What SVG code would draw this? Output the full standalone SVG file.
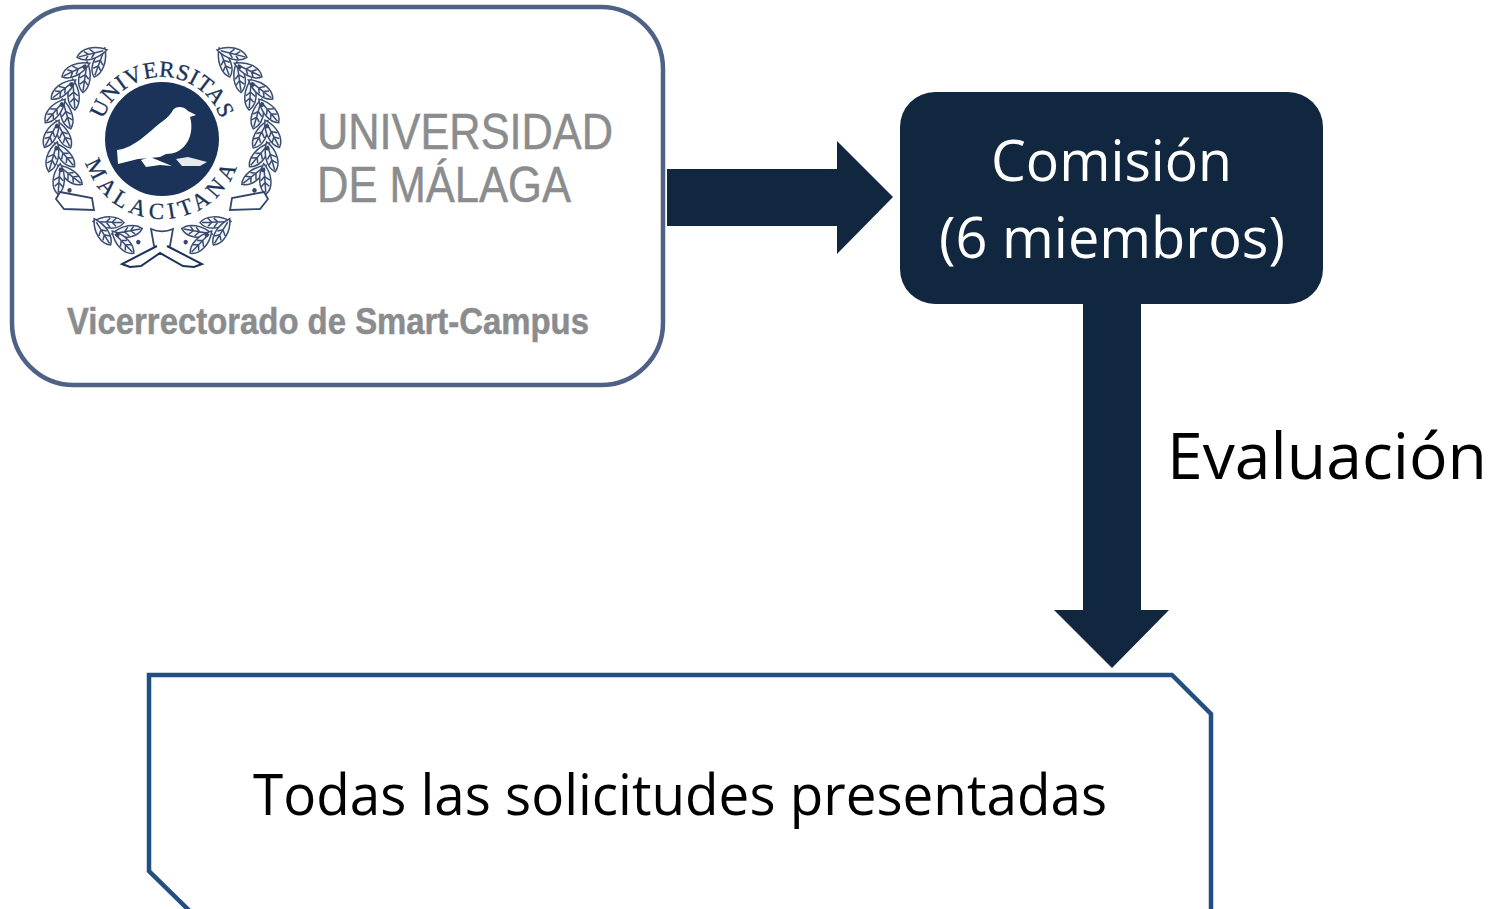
<svg xmlns="http://www.w3.org/2000/svg" width="1503" height="909" viewBox="0 0 1503 909">
<style>
.c{font-family:"Open Sans","Noto Sans",sans-serif}
.g{font-family:"Liberation Sans",Arial,sans-serif;fill:#8b8c8e;stroke:#8b8c8e;stroke-width:.5}
.flow{fill:#11263f}
.seal{font-family:"Liberation Serif","Times New Roman",serif;font-size:23px;fill:#1b3358;stroke:#1b3358;stroke-width:.3}
.lf{fill:#f4f6f9;stroke:#3a4d70;stroke-width:1.5}
.rb{fill:#fff;stroke:#33476b;stroke-width:1.8}
</style>
<defs>
<path id="leaf" d="M-14 0C-8-8 6-8 17 0C6 7-8 7-14 0ZM-12 0H13M-6-4L-2 0M0-5L4 0M-6 4L-2 0M0 4L4 0"/>
<path id="pA" d="M 100 139 A 62 62 0 0 1 224 139"/>
<path id="pB" d="M 82 139 A 80 80 0 0 0 242 139"/>
<g id="pair">
<use href="#leaf" class="lf" transform="translate(0,-98) rotate(-30)"/>
<use href="#leaf" class="lf" transform="translate(0,-111) rotate(26)"/>
<circle cx="-13" cy="-105" r="2.2" fill="#33476b"/>
</g>
</defs>
<rect width="1503" height="909" fill="#fff"/>
<g id="connectors">
<path class="flow" d="M667 169H837V141L893 197L837 254V226H667Z"/>
<path class="flow" d="M1083 300H1141V610H1169L1112 668L1054 610H1083Z"/>
</g>
<g id="uma">
<rect x="12" y="7" width="651" height="378" rx="62" fill="#fff" stroke="#4f6184" stroke-width="4.5"/>
<g id="logo">
<g transform="translate(162,139)">
<use href="#pair" transform="rotate(-160)"/><use href="#pair" transform="rotate(-148)"/><use href="#pair" transform="rotate(-112)"/><use href="#pair" transform="rotate(-100)"/><use href="#pair" transform="rotate(-88)"/><use href="#pair" transform="rotate(-76)"/><use href="#pair" transform="rotate(-64)"/><use href="#pair" transform="rotate(-52)"/><use href="#pair" transform="rotate(-40)"/>
<use href="#pair" transform="scale(-1,1) rotate(-160)"/><use href="#pair" transform="scale(-1,1) rotate(-148)"/><use href="#pair" transform="scale(-1,1) rotate(-112)"/><use href="#pair" transform="scale(-1,1) rotate(-100)"/><use href="#pair" transform="scale(-1,1) rotate(-88)"/><use href="#pair" transform="scale(-1,1) rotate(-76)"/><use href="#pair" transform="scale(-1,1) rotate(-64)"/><use href="#pair" transform="scale(-1,1) rotate(-52)"/><use href="#pair" transform="scale(-1,1) rotate(-40)"/>
</g>
<path class="rb" d="M60 192L92 198L94 210L64 209L56 199Z"/>
<path class="rb" d="M264 192L232 198L230 210L260 209L268 199Z"/>
<path class="rb" d="M151 229C158 232 166 232 173 229L170 246L162 250L154 246Z"/>
<path d="M157 246L122 264L130 267L141 266L160 253L183 266L194 267L202 264L167 246" fill="#fff" stroke="#1b3358" stroke-width="2"/>
<circle cx="162" cy="139" r="57" fill="#1b3358"/>
<path d="M117 150C135 148 148 132 163 121C168 117 171 114 173 110C176 106 184 106 188 111L196 115L190 117C193 126 191 138 186 144C181 151 174 154 166 154L160 157L150 158L138 159L118 164Z" fill="#fff"/>
<path d="M141 160L150 157L172 166L160 165L146 167Z" fill="#fff"/>
<path d="M176 159L188 157L207 162L200 166L182 166Z" fill="#e6e9ef"/>
<text class="seal"><textPath href="#pA" startOffset="50%" text-anchor="middle" letter-spacing="0.5">UNIVERSITAS</textPath></text>
<text class="seal"><textPath href="#pB" startOffset="50%" text-anchor="middle" letter-spacing="5">MALACITANA</textPath></text>
</g>
<text class="g" x="317" y="149" font-size="50" textLength="296" lengthAdjust="spacingAndGlyphs">UNIVERSIDAD</text>
<text class="g" x="317" y="202" font-size="50" textLength="254" lengthAdjust="spacingAndGlyphs">DE MÁLAGA</text>
<text class="g" x="67" y="334" font-size="36" font-weight="700" textLength="522" lengthAdjust="spacingAndGlyphs">Vicerrectorado de Smart-Campus</text>
</g>
<g id="comision">
<rect x="900" y="92" width="423" height="212" rx="35" class="flow"/>
<text class="c" x="991" y="181" font-size="56" fill="#fff" textLength="241" lengthAdjust="spacingAndGlyphs">Comisión</text>
<text class="c" x="939" y="258" font-size="56" fill="#fff" textLength="346" lengthAdjust="spacingAndGlyphs">(6 miembros)</text>
</g>
<text id="evaluacion" class="c" x="1167" y="479" font-size="64" fill="#000" textLength="320" lengthAdjust="spacingAndGlyphs">Evaluación</text>
<g id="solicitudes">
<path d="M149 675H1172L1211 714V930H209L149 871Z" fill="#fff" stroke="#234e82" stroke-width="4.5"/>
<text class="c" x="253" y="815" font-size="56" fill="#000" textLength="854" lengthAdjust="spacingAndGlyphs">Todas las solicitudes presentadas</text>
</g>
</svg>
